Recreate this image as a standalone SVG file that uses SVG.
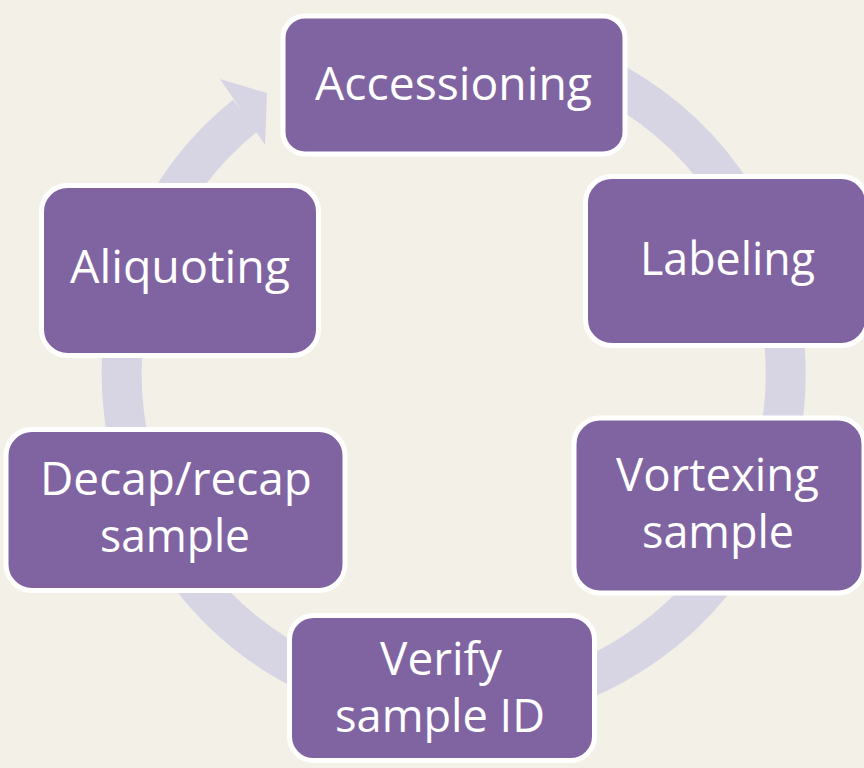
<svg xmlns="http://www.w3.org/2000/svg" width="864" height="768" viewBox="0 0 864 768">
<defs>
<style>
.bg{fill:#F3F1E7}
.ring{fill:none;stroke:#D7D4E4;stroke-width:40}
.head{fill:#D7D4E4}
.box{fill:#8064A2;stroke:#FFFFFF;stroke-width:5}
.lbl{font-family:"Open Sans","Noto Sans","Liberation Sans",sans-serif;font-size:46px;fill:#FFFFFF;text-anchor:middle}
</style>
</defs>
<rect class="bg" x="0" y="0" width="864" height="768"/>
<g id="connectors">
<path class="ring" d="M 313.2 73.1 A 332 332 0 1 1 245.5 115.3"/>
<polygon class="head" points="220,79 267,93 265,145"/>
</g>
<g id="accessioning">
<rect class="box" x="283" y="16" width="342" height="138" rx="22"/>
<text class="lbl" x="453.5" y="100" textLength="277" lengthAdjust="spacingAndGlyphs">Accessioning</text>
</g>
<g id="labeling">
<rect class="box" x="585.5" y="176.5" width="282" height="169" rx="26"/>
<text class="lbl" x="727.5" y="275" textLength="175" lengthAdjust="spacingAndGlyphs">Labeling</text>
</g>
<g id="vortexing">
<rect class="box" x="574" y="418" width="290" height="175" rx="26"/>
<text class="lbl" x="717.5" y="491" textLength="203" lengthAdjust="spacingAndGlyphs">Vortexing</text>
<text class="lbl" x="718" y="548" textLength="152" lengthAdjust="spacingAndGlyphs">sample</text>
</g>
<g id="verify">
<rect class="box" x="289.5" y="615.5" width="305" height="145" rx="24"/>
<text class="lbl" x="441" y="675" textLength="122" lengthAdjust="spacingAndGlyphs">Verify</text>
<text class="lbl" x="440" y="732" textLength="210" lengthAdjust="spacingAndGlyphs">sample ID</text>
</g>
<g id="decap">
<rect class="box" x="6" y="429.5" width="339" height="161" rx="26"/>
<text class="lbl" x="176" y="495" textLength="272" lengthAdjust="spacingAndGlyphs">Decap/recap</text>
<text class="lbl" x="175" y="552" textLength="150" lengthAdjust="spacingAndGlyphs">sample</text>
</g>
<g id="aliquoting">
<rect class="box" x="41.5" y="185.5" width="277" height="170" rx="26"/>
<text class="lbl" x="180" y="283" textLength="220" lengthAdjust="spacingAndGlyphs">Aliquoting</text>
</g>
</svg>
